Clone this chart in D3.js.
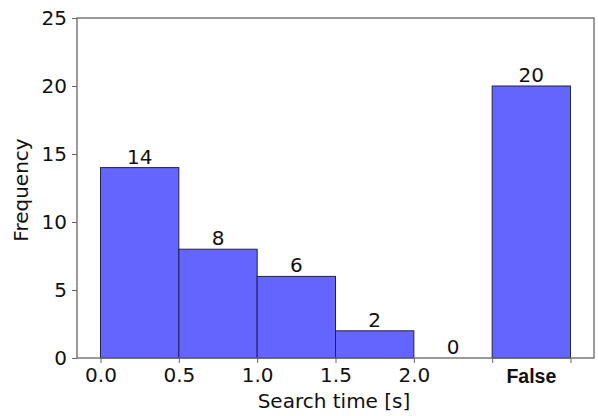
<!DOCTYPE html>
<html>
<head>
<meta charset="utf-8">
<script src="https://d3js.org/d3.v7.min.js"></script>
<style>
  body { margin: 0; background: #fff; }
  text { font-family: "DejaVu Sans", sans-serif; }
</style>
</head>
<body>
<div id="chart"></div>
<script>
// histogram bins (seconds) and counts
var binStarts = [0.0, 0.5, 1.0, 1.5, 2.0];
var binWidth = 0.5;
var counts = [14, 8, 6, 2, 0];
// separate "False" bar, drawn in the slot after the time bins
var falseLabel = "False";
var falseStart = 2.5;
var falseCount = 20;
var xTicks = [0.0, 0.5, 1.0, 1.5, 2.0, 2.5, 3.0];
var xTickLabels = ["0.0", "0.5", "1.0", "1.5", "2.0", "", ""];
var yTicks = [0, 5, 10, 15, 20, 25];

var W = 598, H = 416;
var margin = {top: 18, right: 4, bottom: 58, left: 77};

var svg = d3.select("#chart").append("svg")
  .attr("width", W)
  .attr("height", H);

var x = d3.scaleLinear()
  .domain([-0.15, 3.15])
  .range([margin.left, W - margin.right]);

var y = d3.scaleLinear()
  .domain([0, 25])
  .range([H - margin.bottom, margin.top]);

var bars = binStarts.map(function (s, i) { return {x0: s, x1: s + binWidth, v: counts[i]}; });
bars.push({x0: falseStart, x1: falseStart + binWidth, v: falseCount});

// bars
svg.append("g").selectAll("rect")
  .data(bars.filter(d => d.v > 0))
  .enter().append("rect")
  .attr("x", d => x(d.x0))
  .attr("y", d => y(d.v))
  .attr("width", d => x(d.x1) - x(d.x0))
  .attr("height", d => y(0) - y(d.v))
  .attr("fill", "#6464ff")
  .attr("stroke", "#22224a")
  .attr("stroke-width", 1);

// value labels
svg.append("g").selectAll("text")
  .data(bars)
  .enter().append("text")
  .attr("x", d => x((d.x0 + d.x1) / 2))
  .attr("y", d => y(d.v) - 4)
  .attr("text-anchor", "middle")
  .attr("font-size", "20px")
  .attr("fill", "#111")
  .text(d => d.v);

// axes
var xAxis = svg.append("g")
  .attr("transform", "translate(0," + y(0) + ")")
  .call(d3.axisBottom(x).tickValues(xTicks).tickSize(5).tickSizeOuter(0)
    .tickFormat((d, i) => xTickLabels[i]));

var yAxis = svg.append("g")
  .attr("transform", "translate(" + x(-0.15) + ",0)")
  .call(d3.axisLeft(y).tickValues(yTicks).tickSize(5).tickSizeOuter(0));

[xAxis, yAxis].forEach(function (a) {
  a.select(".domain").remove();
  a.selectAll("line").attr("stroke", "#666");
  a.selectAll("text").attr("font-size", "20px").attr("fill", "#111")
    .style("font-family", "DejaVu Sans, sans-serif");
});
xAxis.selectAll("text").attr("y", 10).attr("dy", "0.71em");
yAxis.selectAll("text").attr("x", -10);

// frame
svg.append("rect")
  .attr("x", x(-0.15))
  .attr("y", y(25))
  .attr("width", x(3.15) - x(-0.15))
  .attr("height", y(0) - y(25))
  .attr("fill", "none")
  .attr("stroke", "#666")
  .attr("stroke-width", 1.3);

// "False" category label
svg.append("text")
  .attr("x", x(falseStart + binWidth / 2))
  .attr("y", 383)
  .attr("text-anchor", "middle")
  .attr("font-size", "19.5px")
  .attr("font-weight", "bold")
  .attr("fill", "#111")
  .style("font-family", "Liberation Sans, Arial, sans-serif")
  .text(falseLabel);

// axis titles
svg.append("text")
  .attr("x", 334)
  .attr("y", 408)
  .attr("text-anchor", "middle")
  .attr("font-size", "20px")
  .attr("fill", "#111")
  .text("Search time [s]");

svg.append("text")
  .attr("transform", "translate(28,190) rotate(-90)")
  .attr("text-anchor", "middle")
  .attr("font-size", "20px")
  .attr("fill", "#111")
  .text("Frequency");
</script>
</body>
</html>
